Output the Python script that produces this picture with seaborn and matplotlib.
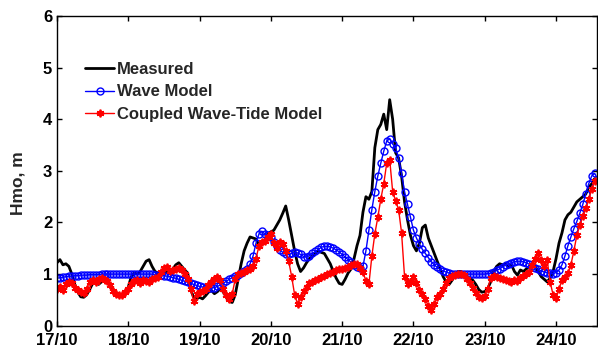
import matplotlib
matplotlib.use("Agg")
import matplotlib.pyplot as plt
import pandas as pd
import seaborn as sns

# Hourly significant wave height (m), starting 17/10 00:00
measured = [
    # 17/10
    1.22, 1.28, 1.18, 1.20, 1.15, 1.00, 0.80, 0.65, 0.56, 0.55, 0.60, 0.70,
    0.82, 0.85, 0.80, 0.85, 0.90, 0.86, 0.75, 0.65, 0.60, 0.57, 0.56, 0.62,
    # 18/10
    0.75, 0.95, 1.02, 1.00, 1.05, 1.15, 1.25, 1.28, 1.15, 1.05, 1.02, 0.98,
    1.00, 1.05, 1.05, 1.10, 1.18, 1.22, 1.15, 1.08, 1.02, 0.70, 0.55, 0.52,
    # 19/10
    0.55, 0.52, 0.58, 0.65, 0.68, 0.62, 0.66, 0.72, 0.65, 0.55, 0.47, 0.45,
    0.60, 0.90, 1.20, 1.45, 1.60, 1.72, 1.70, 1.68, 1.55, 1.58, 1.65, 1.78,
    # 20/10
    1.82, 1.85, 1.95, 2.05, 2.18, 2.32, 2.05, 1.75, 1.45, 1.20, 1.05, 1.12,
    1.22, 1.30, 1.35, 1.40, 1.45, 1.42, 1.40, 1.30, 1.20, 1.05, 0.92, 0.82,
    # 21/10
    0.80, 0.90, 1.02, 1.10, 1.30, 1.55, 1.75, 2.20, 2.50, 2.45, 2.60, 3.45,
    3.80, 3.90, 4.10, 3.80, 4.38, 4.00, 3.35, 3.25, 2.90, 2.40, 2.05, 1.75,
    # 22/10
    1.55, 1.45, 1.60, 1.90, 1.95, 1.70, 1.55, 1.40, 1.25, 1.10, 0.95, 0.85,
    0.80, 0.88, 0.98, 1.05, 1.05, 0.98, 0.95, 0.92, 0.88, 0.80, 0.70, 0.65,
    # 23/10
    0.66, 0.72, 0.85, 1.05, 1.15, 1.20, 1.18, 1.20, 1.15, 1.18, 1.05, 0.98,
    1.08, 1.05, 1.10, 1.15, 1.20, 1.15, 1.05, 0.95, 0.90, 0.85, 0.92, 1.05,
    # 24/10
    1.30, 1.60, 1.80, 2.05, 2.15, 2.20, 2.30, 2.40, 2.45, 2.50, 2.55, 2.68,
    2.75, 2.85,
]

wave_model = [
    # 17/10
    0.92, 0.93, 0.94, 0.95, 0.96, 0.96, 0.97, 0.97, 0.98, 0.98, 0.98, 0.99,
    0.99, 0.99, 0.99, 1.00, 1.00, 1.00, 1.00, 1.00, 1.00, 1.00, 1.00, 1.00,
    # 18/10
    1.00, 1.00, 1.00, 1.00, 1.00, 1.00, 1.00, 1.00, 1.00, 0.99, 0.99, 0.98,
    0.97, 0.96, 0.95, 0.93, 0.92, 0.90, 0.88, 0.86, 0.84, 0.82, 0.80, 0.78,
    # 19/10
    0.76, 0.75, 0.74, 0.73, 0.73, 0.74, 0.76, 0.79, 0.82, 0.86, 0.90, 0.93,
    0.96, 0.99, 1.02, 1.06, 1.10, 1.20, 1.35, 1.60, 1.78, 1.83, 1.78, 1.76,
    # 20/10
    1.72, 1.62, 1.55, 1.47, 1.42, 1.38, 1.38, 1.40, 1.42, 1.41, 1.38, 1.34,
    1.33, 1.36, 1.40, 1.44, 1.48, 1.52, 1.54, 1.54, 1.53, 1.50, 1.47, 1.43,
    # 21/10
    1.38, 1.33, 1.28, 1.23, 1.18, 1.14, 1.12, 1.15, 1.45, 1.85, 2.25, 2.60,
    2.90, 3.15, 3.38, 3.58, 3.62, 3.52, 3.45, 3.25, 2.95, 2.60, 2.35, 2.10,
    # 22/10
    1.85, 1.70, 1.58, 1.48, 1.40, 1.32, 1.24, 1.18, 1.13, 1.09, 1.06, 1.04,
    1.02, 1.01, 1.00, 1.00, 1.00, 1.00, 1.00, 1.00, 1.00, 1.00, 1.00, 1.00,
    # 23/10
    1.00, 1.01, 1.02, 1.04, 1.07, 1.10, 1.14, 1.17, 1.20, 1.22, 1.24, 1.25,
    1.25, 1.24, 1.22, 1.19, 1.15, 1.12, 1.09, 1.06, 1.04, 1.03, 1.02, 1.01,
    # 24/10
    1.03, 1.08, 1.18, 1.35, 1.55, 1.72, 1.88, 2.02, 2.18, 2.35, 2.55, 2.75,
    2.90, 2.95,
]

coupled = [
    # 17/10
    0.72, 0.75, 0.70, 0.80, 0.84, 0.82, 0.74, 0.70, 0.66, 0.63, 0.72, 0.85,
    0.88, 0.85, 0.90, 0.92, 0.88, 0.86, 0.78, 0.68, 0.62, 0.59, 0.60, 0.65,
    # 18/10
    0.72, 0.80, 0.86, 0.88, 0.82, 0.88, 0.86, 0.84, 0.90, 0.93, 0.95, 1.05,
    1.12, 1.13, 1.06, 1.08, 1.10, 1.12, 1.08, 1.00, 0.90, 0.72, 0.48, 0.62,
    # 19/10
    0.65, 0.68, 0.72, 0.78, 0.85, 0.90, 0.95, 0.88, 0.72, 0.60, 0.52, 0.62,
    0.90, 1.00, 1.02, 1.05, 1.08, 1.10, 1.15, 1.30, 1.55, 1.62, 1.65, 1.72,
    # 20/10
    1.78, 1.60, 1.50, 1.62, 1.58, 1.45, 1.25, 0.95, 0.60, 0.42, 0.55, 0.68,
    0.75, 0.82, 0.85, 0.88, 0.90, 0.95, 0.97, 1.00, 1.02, 1.05, 1.07, 1.10,
    # 21/10
    1.10, 1.12, 1.14, 1.17, 1.20, 1.20, 1.12, 1.05, 0.86, 0.80, 1.35, 1.78,
    2.10, 2.45, 2.75, 3.15, 3.22, 2.60, 2.42, 2.25, 1.80, 0.95, 0.80, 0.85,
    # 22/10
    0.95, 0.82, 0.70, 0.62, 0.52, 0.38, 0.30, 0.42, 0.55, 0.62, 0.72, 0.82,
    0.92, 0.96, 0.98, 1.00, 1.01, 0.98, 0.90, 0.82, 0.74, 0.64, 0.56, 0.53,
    # 23/10
    0.58, 0.72, 0.92, 0.97, 0.95, 0.92, 0.90, 0.88, 0.86, 0.85, 0.88, 0.86,
    0.92, 0.96, 1.00, 1.05, 1.18, 1.30, 1.40, 1.28, 1.15, 1.28, 0.85, 0.60,
    # 24/10
    0.53, 0.72, 0.88, 0.95, 1.02, 1.18, 1.45, 1.75, 1.95, 2.12, 2.28, 2.45,
    2.65, 2.80,
]

series_names = ["Measured", "Wave Model", "Coupled Wave-Tide Model"]
tick_labels = ["17/10", "18/10", "19/10", "20/10", "21/10", "22/10", "23/10", "24/10"]
y_ticks = [0, 1, 2, 3, 4, 5, 6]

times = pd.date_range("2010-10-17 00:00", periods=len(measured), freq="h")
tick_days = pd.date_range("2010-10-17", periods=len(tick_labels), freq="D")
df = pd.DataFrame({"time": times, "measured": measured,
                   "wave": wave_model, "coupled": coupled})

sns.set_theme(style="ticks")
plt.rcParams["font.family"] = ["Liberation Sans", "DejaVu Sans"]
plt.rcParams["font.weight"] = "bold"

fig = plt.figure(figsize=(5.98, 3.49), dpi=100)
ax = fig.add_axes([0.0953, 0.0668, 0.903, 0.887])

sns.lineplot(data=df, x="time", y="measured", ax=ax, color="black",
             linewidth=2.0, label=series_names[0])
sns.lineplot(data=df, x="time", y="wave", ax=ax, color="#0000ff",
             linewidth=1.0, marker="o", markersize=5,
             markerfacecolor="none", markeredgecolor="#0000ff",
             markeredgewidth=1.0, label=series_names[1])
sns.lineplot(data=df, x="time", y="coupled", ax=ax, color="#ff0000",
             linewidth=1.0, marker=(6, 2, 0), markersize=5.5,
             markeredgecolor="#ff0000", markeredgewidth=1.3,
             label=series_names[2])

ax.set_xlim(pd.Timestamp("2010-10-17 00:00"), pd.Timestamp("2010-10-24 13:47"))
ax.set_ylim(0, 6)
ax.set_xticks(tick_days)
ax.set_xticklabels(tick_labels)
ax.set_yticks(y_ticks)
ax.set_yticklabels([str(v) for v in y_ticks])
ax.set_xlabel("")
ax.set_ylabel("Hmo, m", fontsize=12.5, fontweight="bold")
ax.yaxis.set_label_coords(-0.058, 0.46)

for side in ["left", "right", "top", "bottom"]:
    ax.spines[side].set_visible(True)
    ax.spines[side].set_color("black")
    ax.spines[side].set_linewidth(1.0)
ax.tick_params(axis="both", which="major", direction="in", length=3.8,
               width=1.0, color="black", labelsize=12, pad=3.5,
               top=True, right=True, labelcolor="black")
ax.tick_params(axis="x", pad=5.0)
for lab in ax.get_xticklabels() + ax.get_yticklabels():
    lab.set_fontweight("bold")

leg = ax.legend(loc="upper left", bbox_to_anchor=(0.052, 0.853),
                frameon=False, prop={"size": 12, "weight": "bold"},
                handlelength=1.75, handletextpad=0.15, borderpad=0.0,
                borderaxespad=0.0, labelspacing=0.47, markerscale=1.0)

fig.savefig("out.png", dpi=100, facecolor="white")
